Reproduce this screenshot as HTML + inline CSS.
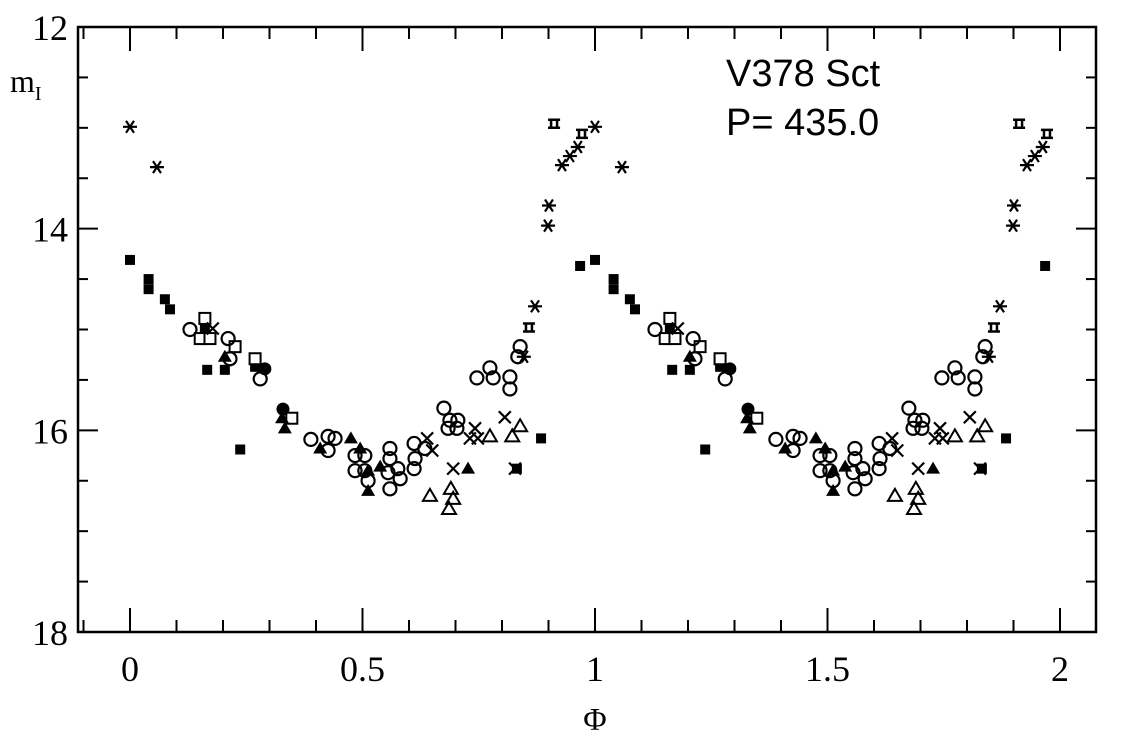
<!DOCTYPE html>
<html><head><meta charset="utf-8"><style>
html,body{margin:0;padding:0;background:#fff;}
svg{display:block;font-family:"Liberation Serif",serif;}
</style></head><body>
<svg id="chart" width="1138" height="742" viewBox="0 0 1138 742">
<g id="axes"></g><g id="marks"></g>
<text x="726" y="86" font-size="38" font-family="Liberation Sans, sans-serif" font-weight="300">V378 Sct</text>
<text x="726" y="135" font-size="38" font-family="Liberation Sans, sans-serif">P= 435.0</text>
<text x="10" y="92" font-size="32">m<tspan font-size="20" dy="8">I</tspan></text>
<text x="595" y="730" font-size="32" text-anchor="middle">Φ</text>
</svg>
<script>
const xTicks=[0,0.5,1,1.5,2];
const xTickLabels=["0","0.5","1","1.5","2"];
const yTicks=[12,14,16,18];
const yTickLabels=["12","14","16","18"];
// phase (0-1), magnitude, marker type; plotted at phase and phase+1
const phases=[0,0.058,0.901,0.899,0.929,0.946,0.963,0.871,
0.912,0.972,0.858,
0,0.04,0.04,0.075,0.086,0.166,0.204,0.237,0.884,0.832,0.161,0.968,0.269,
0.161,0.151,0.172,0.226,0.269,0.348,
0.129,0.211,0.215,0.28,0.389,0.426,0.441,0.426,0.484,0.505,0.484,0.505,0.512,0.559,0.559,0.555,0.559,0.576,0.581,0.611,0.613,0.611,0.634,0.675,0.688,0.705,0.684,0.703,0.746,0.774,0.781,0.817,0.817,0.834,0.839,
0.29,0.329,
0.204,0.327,0.333,0.409,0.475,0.495,0.512,0.512,0.538,0.727,
0.774,0.839,0.822,0.645,0.69,0.695,0.686,
0.178,0.639,0.65,0.742,0.731,0.748,0.806,0.695,0.828,0.847];
const mags=[12.99,13.39,13.77,13.97,13.37,13.28,13.19,14.77,
12.96,13.06,14.98,
14.31,14.5,14.6,14.7,14.8,15.4,15.4,16.19,16.08,16.38,14.99,14.37,15.37,
14.89,15.09,15.09,15.17,15.29,15.88,
15.0,15.09,15.29,15.49,16.09,16.06,16.08,16.2,16.25,16.25,16.4,16.4,16.5,16.18,16.28,16.42,16.58,16.38,16.48,16.13,16.28,16.38,16.18,15.78,15.9,15.9,15.98,15.98,15.48,15.38,15.48,15.47,15.59,15.27,15.17,
15.39,15.79,
15.27,15.88,15.98,16.18,16.08,16.18,16.4,16.6,16.36,16.38,
16.06,15.96,16.06,16.65,16.58,16.68,16.78,
14.99,16.08,16.2,15.98,16.08,16.08,15.87,16.38,16.38,15.27];
const kinds=["st","st","st","st","st","st","st","st",
"sp","sp","sp",
"fsq","fsq","fsq","fsq","fsq","fsq","fsq","fsq","fsq","fsq","fsq","fsq","fsq",
"osq","osq","osq","osq","osq","osq",
"oc","oc","oc","oc","oc","oc","oc","oc","oc","oc","oc","oc","oc","oc","oc","oc","oc","oc","oc","oc","oc","oc","oc","oc","oc","oc","oc","oc","oc","oc","oc","oc","oc","oc","oc",
"fc","fc",
"ft","ft","ft","ft","ft","ft","ft","ft","ft","ft",
"ot","ot","ot","ot","ot","ot","ot",
"x","x","x","x","x","x","x","x","x","st"];
const L=78,R=1096,T=27,B=632;
const X0=130,XS=465;
function xs(p){return X0+p*XS;}
function ys(m){return T+(m-12)*(B-T)/6;}
const NS="http://www.w3.org/2000/svg";
function mk(tag,attrs,parent){const e=document.createElementNS(NS,tag);for(const k in attrs)e.setAttribute(k,attrs[k]);parent.appendChild(e);return e;}
const ax=document.getElementById('axes'),mg=document.getElementById('marks');
const frame=mk('rect',{x:L,y:T,width:R-L,height:B-T,fill:'none',stroke:'#000','stroke-width':2.5},ax);


for(let i=-1;i<=21;i++){const p=i/10,x=xs(p);if(x<=L+1||x>=R-1)continue;const major=i%5===0;const len=major?24:12;
mk('line',{x1:x,y1:B,x2:x,y2:B-len,stroke:'#000','stroke-width':2},ax);
mk('line',{x1:x,y1:T,x2:x,y2:T+len,stroke:'#000','stroke-width':2},ax);}
for(let i=0;i<=12;i++){const m=12+i*0.5,y=ys(m);const major=i%4===0;const len=major?20:10;
mk('line',{x1:L,y1:y,x2:L+len,y2:y,stroke:'#000','stroke-width':2},ax);
mk('line',{x1:R,y1:y,x2:R-len,y2:y,stroke:'#000','stroke-width':2},ax);}
xTicks.forEach((v,i)=>{const t=mk('text',{x:xs(v),y:681,'font-size':36,'text-anchor':'middle'},ax);t.textContent=xTickLabels[i];

});
yTicks.forEach((v,i)=>{const t=mk('text',{x:68,y:ys(v)+13,'font-size':36,'text-anchor':'end'},ax);t.textContent=yTickLabels[i];

});
function marker(k,x,y){const g=mk('g',{},mg);
if(k==='fsq'){mk('rect',{x:x-5,y:y-5,width:10,height:10,fill:'#000'},g);}
else if(k==='osq'){mk('rect',{x:x-5.5,y:y-5.5,width:11,height:11,fill:'#fff',stroke:'#000','stroke-width':2},g);}
else if(k==='oc'){mk('circle',{cx:x,cy:y,r:6.5,fill:'none',stroke:'#000','stroke-width':2.2},g);}
else if(k==='fc'){mk('circle',{cx:x,cy:y,r:6.5,fill:'#000'},g);}
else if(k==='ft'){mk('polygon',{points:`${x},${y-7} ${x-7},${y+5} ${x+7},${y+5}`,fill:'#000'},g);}
else if(k==='ot'){mk('polygon',{points:`${x},${y-7} ${x-7},${y+5} ${x+7},${y+5}`,fill:'none',stroke:'#000','stroke-width':2},g);}
else if(k==='x'){mk('path',{d:`M${x-6} ${y-6}L${x+6} ${y+6}M${x+6} ${y-6}L${x-6} ${y+6}`,stroke:'#000','stroke-width':2.2},g);}
else if(k==='st'){mk('path',{d:`M${x-7} ${y}H${x+7}M${x-4} ${y-6}L${x+4} ${y+6}M${x+4} ${y-6}L${x-4} ${y+6}`,stroke:'#000','stroke-width':2.2},g);}
else if(k==='sp'){mk('path',{d:`M${x-6} ${y-4}H${x+6}M${x-6} ${y+4}H${x+6}M${x-3} ${y-5}V${y+5}M${x+3} ${y-5}V${y+5}`,stroke:'#000','stroke-width':2.5},g);}
return g;}
for(let c=0;c<2;c++){phases.forEach((p,i)=>{const ph=p+c;if(ph>2.02)return;
const g=marker(kinds[i],xs(ph),ys(mags[i]));

});}
</script>
</body></html>
